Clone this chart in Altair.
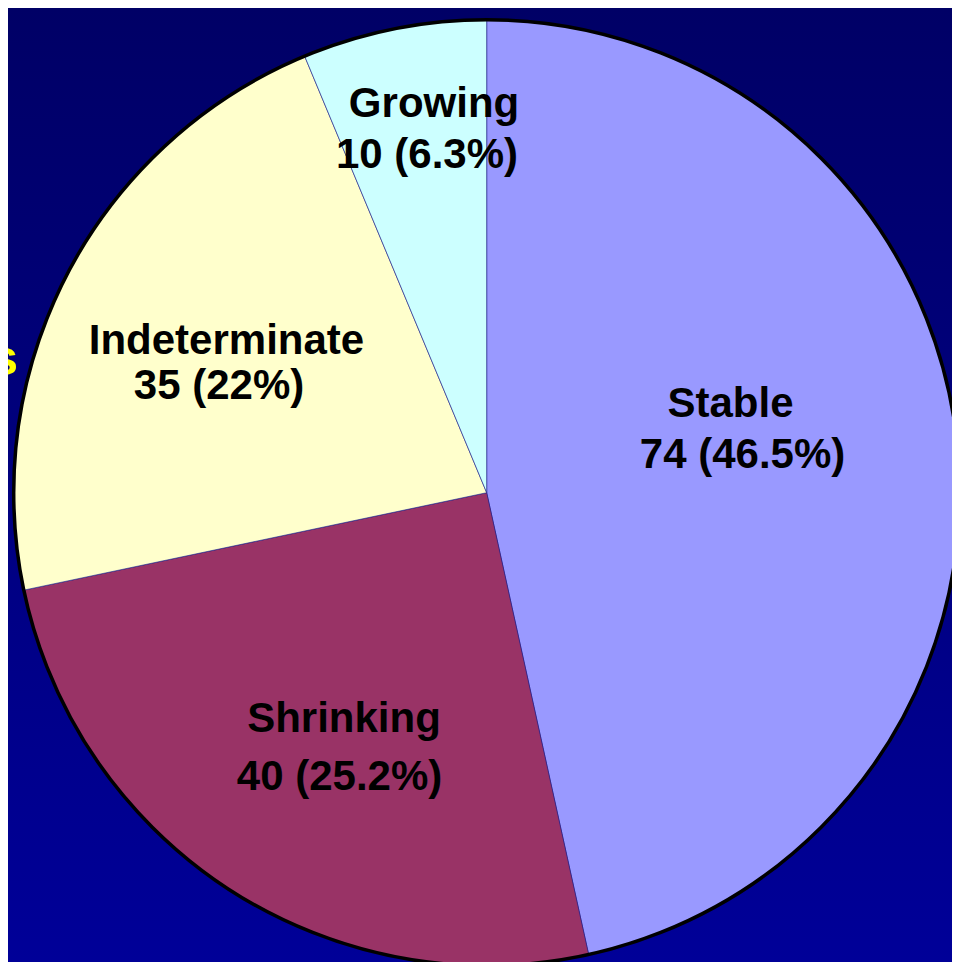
import math
import altair as alt
import pandas as pd

# ---- data ----
categories = ["Stable", "Shrinking", "Indeterminate", "Growing"]
counts = [74, 40, 35, 10]
percents = ["46.5%", "25.2%", "22%", "6.3%"]
colors = ["#9999ff", "#993366", "#ffffcc", "#ccffff"]

# ---- layout (kept apart from the data) ----
W, H = 944, 954
CX, CY = 478.7, 484.7
R = 473
FONT = "Liberation Sans"
# label placement per slice: (angle deg, radius px) for name line and value line
LABEL_POS = {
    "Stable": [(72.75, 255.3), (84.48, 257.0)],
    "Shrinking": [(210.81, 278.6), (206.34, 331.7)],
    "Indeterminate": [(298.06, 294.9), (289.29, 283.6)],
    "Growing": [(352.02, 379.4), (349.58, 330.1)],
}

df = pd.DataFrame({"category": categories, "count": counts, "order": list(range(len(categories)))})

rows = []
for cat, cnt, pct in zip(categories, counts, percents):
    (a1, r1), (a2, r2) = LABEL_POS[cat]
    rows.append({"text": cat, "th": math.radians(a1), "r": r1})
    rows.append({"text": f"{cnt} ({pct})", "th": math.radians(a2), "r": r2})
labels_df = pd.DataFrame(rows)

one = pd.DataFrame({"a": [0]})

bg = alt.Chart(one).mark_rect(
    color=alt.LinearGradient(
        gradient="linear",
        stops=[alt.GradientStop(color="#000066", offset=0),
               alt.GradientStop(color="#000098", offset=1)],
        x1=0, x2=0, y1=0, y2=1,
    )
).encode(x=alt.value(0), x2=alt.value(W), y=alt.value(0), y2=alt.value(H))

s_text = alt.Chart(one).mark_text(
    text="s", align="right", baseline="alphabetic", fontSize=50,
    font=FONT, fontWeight="bold", color="#ffff00",
).encode(x=alt.value(10), y=alt.value(367))

pie = alt.Chart(df).mark_arc(radius=R, stroke="#22228a", strokeWidth=0.6).encode(
    theta=alt.Theta("count:Q", stack=True),
    color=alt.Color("category:N", scale=alt.Scale(domain=categories, range=colors), legend=None),
    order=alt.Order("order:Q"),
    x=alt.value(CX), y=alt.value(CY),
)

outline = alt.Chart(one).mark_arc(
    radius=R, theta=0, theta2=2 * math.pi, fillOpacity=0, stroke="black", strokeWidth=3.5
).encode(x=alt.value(CX), y=alt.value(CY))

labels = alt.Chart(labels_df).mark_text(
    align="center", baseline="alphabetic", fontSize=42, font=FONT,
    fontWeight="bold", color="black",
).encode(
    text="text:N",
    theta=alt.Theta("th:Q", scale=None),
    radius=alt.Radius("r:Q", scale=None),
    x=alt.value(CX), y=alt.value(CY),
)

chart = alt.layer(bg, s_text, pie, outline, labels).properties(
    width=W, height=H, padding=0, autosize="none", background="#000066"
).configure_view(stroke=None)

chart.save("out.html", embed_options={"renderer": "svg", "actions": False})
